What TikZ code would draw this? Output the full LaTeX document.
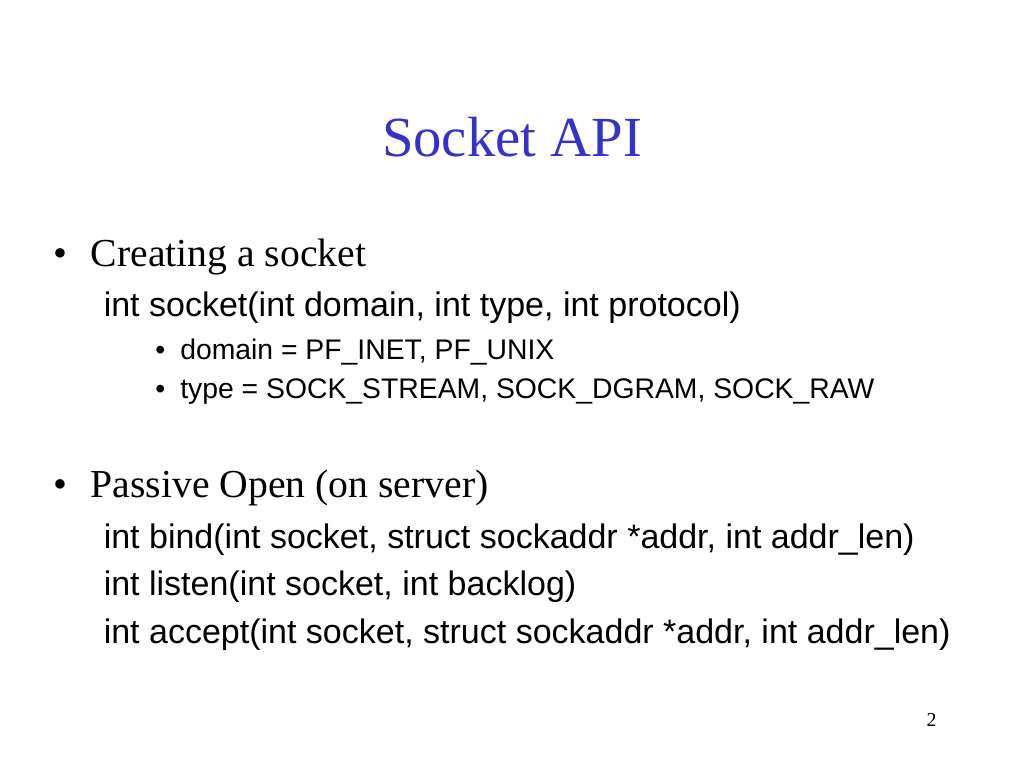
\documentclass[tikz,border=0pt]{standalone}
\usepackage{fontspec}
\setmainfont{Liberation Serif}
\setsansfont{Liberation Sans}
\definecolor{titleblue}{RGB}{51,51,204}

\begin{document}
\begin{tikzpicture}[x=0.703125bp, y=-0.703125bp,
    every node/.style={inner sep=0pt, anchor=base west},
    headline/.style={font=\fontsize{40}{48}\selectfont, text=titleblue, anchor=base},
    lvlone/.style={font=\fontsize{28}{34}\selectfont},
    lvltwo/.style={font=\sffamily\fontsize{24}{29}\selectfont},
    lvlthree/.style={font=\sffamily\fontsize{20}{24}\selectfont}]
    \fill[white] (0,0) rectangle (1024,768);
    \node[headline] (title) at (512,156) {Socket API};

    \node[lvlone] (dotA) at (53,266) {\textbullet};
    \node[lvlone] (create) at (90.5,266) {Creating a socket};
    \node[lvltwo] (sockcall) at (103.5,316.5) {int socket(int domain, int type, int protocol)};
    \node[lvlthree] (dotB) at (155,359) {\textbullet};
    \node[lvlthree] (domain) at (180,359) {domain = PF\_INET, PF\_UNIX};
    \node[lvlthree] (dotC) at (155,398.5) {\textbullet};
    \node[lvlthree] (type) at (180,398.5) {type = SOCK\_STREAM, SOCK\_DGRAM, SOCK\_RAW};

    \node[lvlone] (dotD) at (53,497) {\textbullet};
    \node[lvlone] (passive) at (90.5,497) {Passive Open (on server)};
    \node[lvltwo] (bindcall) at (103.5,548) {int bind(int socket, struct sockaddr *addr, int addr\_len)};
    \node[lvltwo] (listencall) at (103.5,595.5) {int listen(int socket, int backlog)};
    \node[lvltwo] (acceptcall) at (103.5,643) {int accept(int socket, struct sockaddr *addr, int addr\_len)};

    \node[font=\fontsize{14}{17}\selectfont, anchor=base] (pagenum) at (931.5,726) {2};
\end{tikzpicture}
\end{document}
